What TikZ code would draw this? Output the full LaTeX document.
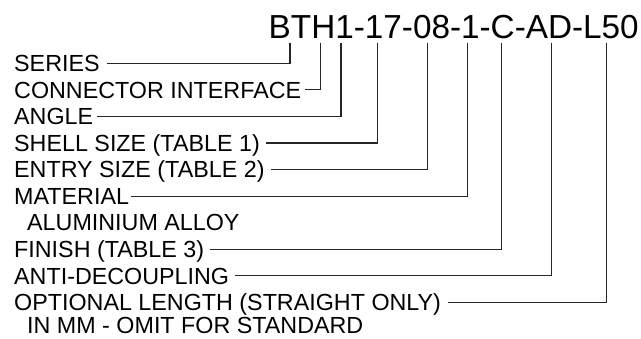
\documentclass[tikz,border=0pt]{standalone}
\usepackage{fontspec}
\setmainfont{Liberation Sans}
\begin{document}
\begin{tikzpicture}[x=1pt,y=-1pt,
  lbl/.style={font=\fontsize{23.3}{26}\selectfont, inner sep=0pt,
    anchor=west, text height=16.7pt, text depth=0pt},
  lead/.style={line width=1.1pt, draw=black!85}]
\useasboundingbox (0,0) rectangle (641,338);
\node[font=\fontsize{33.3}{36}\selectfont, inner sep=0pt, anchor=base west]
  (code) at (268.5,38.3) {BTH1-17-08-1-C-AD-L50};
% tops of the leader lines
\coordinate (t0) at (290,42.5);
\coordinate (t1) at (320.5,42.5);
\coordinate (t2) at (341,42.5);
\coordinate (t3) at (377.7,42.5);
\coordinate (t4) at (427.3,42.5);
\coordinate (t5) at (467.3,42.5);
\coordinate (t7) at (501.3,42.5);
\coordinate (t8) at (551.7,42.5);
\coordinate (t9) at (606.7,42.5);
% labels
\node[lbl] (s0) at (14,63.3)   {SERIES};
\node[lbl] (s1) at (14,89.85)  {CONNECTOR INTERFACE};
\node[lbl] (s2) at (14,116.4)  {ANGLE};
\node[lbl] (s3) at (14,142.95) {SHELL SIZE (TABLE 1)};
\node[lbl] (s4) at (14,169.5)  {ENTRY SIZE (TABLE 2)};
\node[lbl] (s5) at (14,196.05) {MATERIAL};
\node[lbl] (s6) at (27,222.6)  {ALUMINIUM ALLOY};
\node[lbl] (s7) at (14,249.15) {FINISH (TABLE 3)};
\node[lbl] (s8) at (14,275.7)  {ANTI-DECOUPLING};
\node[lbl] (s9) at (14,302.25) {OPTIONAL LENGTH (STRAIGHT ONLY)};
\node[lbl] (s10) at (27,325.5) {IN MM - OMIT FOR STANDARD};
% leaders
\draw[lead] (t0) |- ([xshift=7pt]s0.east);
\draw[lead] (t1) |- ([xshift=4pt]s1.east);
\draw[lead] (t2) |- ([xshift=4pt]s2.east);
\draw[lead] (t3) |- ([xshift=6pt]s3.east);
\draw[lead] (t4) |- ([xshift=6pt]s4.east);
\draw[lead] (t5) |- ([xshift=2pt]s5.east);
\draw[lead] (t7) |- ([xshift=6pt]s7.east);
\draw[lead] (t8) |- ([xshift=6pt]s8.east);
\draw[lead] (t9) |- ([xshift=7pt]s9.east);
\end{tikzpicture}
\end{document}
